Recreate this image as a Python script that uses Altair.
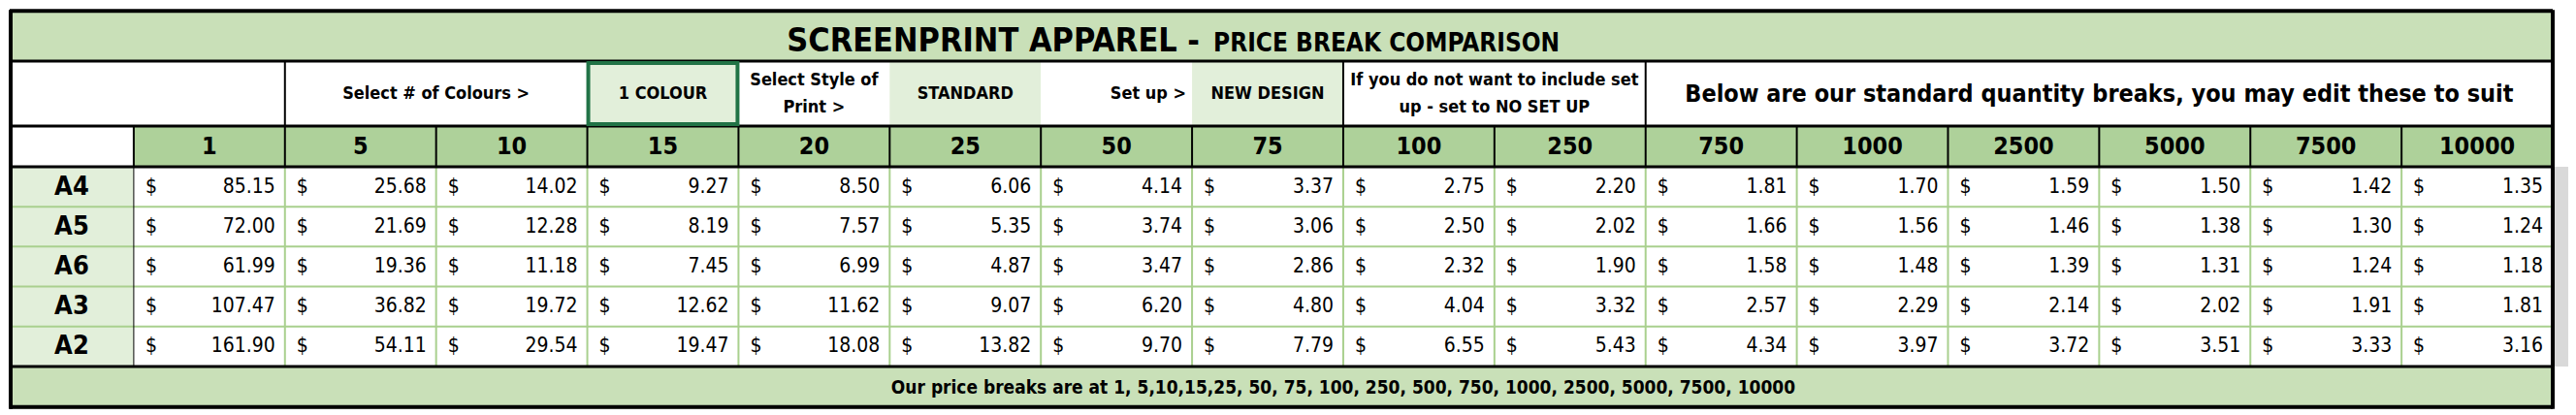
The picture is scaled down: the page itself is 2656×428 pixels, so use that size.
import altair as alt
import pandas as pd

sizes = ["A4", "A5", "A6", "A3", "A2"]
qty = [1, 5, 10, 15, 20, 25, 50, 75, 100, 250, 750, 1000, 2500, 5000, 7500, 10000]
prices = {
    "A4": [85.15, 25.68, 14.02, 9.27, 8.50, 6.06, 4.14, 3.37, 2.75, 2.20, 1.81, 1.70, 1.59, 1.50, 1.42, 1.35],
    "A5": [72.00, 21.69, 12.28, 8.19, 7.57, 5.35, 3.74, 3.06, 2.50, 2.02, 1.66, 1.56, 1.46, 1.38, 1.30, 1.24],
    "A6": [61.99, 19.36, 11.18, 7.45, 6.99, 4.87, 3.47, 2.86, 2.32, 1.90, 1.58, 1.48, 1.39, 1.31, 1.24, 1.18],
    "A3": [107.47, 36.82, 19.72, 12.62, 11.62, 9.07, 6.20, 4.80, 4.04, 3.32, 2.57, 2.29, 2.14, 2.02, 1.91, 1.81],
    "A2": [161.90, 54.11, 29.54, 19.47, 18.08, 13.82, 9.70, 7.79, 6.55, 5.43, 4.34, 3.97, 3.72, 3.51, 3.33, 3.16],
}
title_main = "SCREENPRINT APPAREL -"
title_sub = "PRICE BREAK COMPARISON"
footer = "Our price breaks are at 1, 5,10,15,25, 50, 75, 100, 250, 500, 750, 1000, 2500, 5000, 7500, 10000"
# (first col, last col, text, fill, align) -- 0-based quantity columns
options = [
    (1, 2, "Select # of Colours  >", "white", "center"),
    (3, 3, "1 COLOUR", "#e2efda", "center"),
    (4, 4, "Select Style of|Print  >", "white", "center"),
    (5, 5, "STANDARD", "#e2efda", "center"),
    (6, 6, "Set up >", "white", "right"),
    (7, 7, "NEW DESIGN", "#e2efda", "center"),
    (8, 9, "If you do not want to include set|up - set to NO SET UP", "white", "center"),
    (10, 15, "Below are our standard quantity breaks, you may edit these to suit", "white", "center"),
]

W, H = 2640, 412
LAB = 128
CW = 156.0
ROWS = [0, 53, 120, 162]
RH = 41.2
FONT = "Liberation Sans Narrow, DejaVu Sans Condensed, sans-serif"
GREEN = "#a9d08e"


def cx(i):
    return LAB + i * CW


y_data0 = ROWS[3]
y_foot = y_data0 + 5 * RH

rects = []
rects.append(dict(x=0, x2=cx(16), y=0, y2=ROWS[1], fill="#c9e0b8"))
rects.append(dict(x=0, x2=cx(16), y=y_foot, y2=H, fill="#c9e0b8"))
rects.append(dict(x=0, x2=cx(16), y=ROWS[1], y2=ROWS[2], fill="white"))
for a, b, t, f, al in options:
    rects.append(dict(x=cx(a), x2=cx(b + 1), y=ROWS[1], y2=ROWS[2], fill=f))
rects.append(dict(x=0, x2=LAB, y=ROWS[2], y2=ROWS[3], fill="white"))
rects.append(dict(x=LAB, x2=cx(16), y=ROWS[2], y2=ROWS[3], fill="#aed19a"))
rects.append(dict(x=0, x2=LAB, y=y_data0, y2=y_foot, fill="#e2efda"))
rects.append(dict(x=LAB, x2=cx(16), y=y_data0, y2=y_foot, fill="white"))
rects.append(dict(x=cx(16) + 2, x2=W, y=y_data0, y2=y_foot, fill="#d9d9d9"))
rects_df = pd.DataFrame(rects)

lines = []
for i in range(1, 5):
    y = y_data0 + i * RH
    lines.append(dict(x=0, x2=cx(16), y=y, y2=y, c=GREEN, w=2))
for i in range(1, 16):
    lines.append(dict(x=cx(i), x2=cx(i), y=y_data0, y2=y_foot, c=GREEN, w=2))
for i in range(0, 16):
    lines.append(dict(x=cx(i), x2=cx(i), y=ROWS[2], y2=ROWS[3], c="black", w=2))
for a in [1, 8, 10]:
    lines.append(dict(x=cx(a), x2=cx(a), y=ROWS[1], y2=ROWS[2], c="black", w=2))
for y in [ROWS[1], ROWS[2], ROWS[3], y_foot]:
    lines.append(dict(x=0, x2=cx(16), y=y, y2=y, c="black", w=3))
lines.append(dict(x=LAB, x2=LAB, y=ROWS[3], y2=y_foot, c="black", w=1))
# selected cell
s0, s1 = cx(3), cx(4)
for (x, x2, y, y2) in [(s0, s1, ROWS[1] + 2, ROWS[1] + 2), (s0, s1, ROWS[2] - 2, ROWS[2] - 2),
                       (s0 + 1, s0 + 1, ROWS[1], ROWS[2]), (s1 - 1, s1 - 1, ROWS[1], ROWS[2])]:
    lines.append(dict(x=x, x2=x2, y=y, y2=y2, c="#217346", w=4))
# outer frame
for (x, x2, y, y2) in [(0, cx(16), 1, 1), (0, cx(16), H - 2, H - 2), (1, 1, 0, H), (cx(16), cx(16), 0, H)]:
    lines.append(dict(x=x, x2=x2, y=y, y2=y2, c="black", w=4))
lines_df = pd.DataFrame(lines)

texts = []
texts.append(dict(x=1228, y=33, t=title_main, s=34, a="right"))
texts.append(dict(x=1242, y=35, t=title_sub, s=26, a="left"))
texts.append(dict(x=cx(8), y=y_foot + 22, t=footer, s=19, a="center"))
for a, b, t, f, al in options:
    parts = t.split("|")
    big = b == 15
    for k, p in enumerate(parts):
        yy = (ROWS[1] + ROWS[2]) / 2 + (k - (len(parts) - 1) / 2) * 28
        xx = (cx(a) + cx(b + 1)) / 2 if al == "center" else cx(b + 1) - 6
        texts.append(dict(x=xx, y=yy, t=p, s=25 if big else 18, a=al))
for i, q in enumerate(qty):
    texts.append(dict(x=cx(i) + CW / 2, y=(ROWS[2] + ROWS[3]) / 2, t=str(q), s=25, a="center"))
for r, name in enumerate(sizes):
    yy = y_data0 + (r + 0.5) * RH
    texts.append(dict(x=LAB / 2, y=yy, t=name, s=27, a="center"))
    for i, v in enumerate(prices[name]):
        texts.append(dict(x=cx(i) + 12, y=yy, t="$", s=21, a="left", n=1))
        texts.append(dict(x=cx(i + 1) - 10, y=yy, t=f"{v:.2f}", s=21, a="right", n=1))
texts_df = pd.DataFrame(texts).fillna(0)

xs = alt.Scale(domain=[0, W], range=[0, W])
ys = alt.Scale(domain=[0, H], range=[0, H])

bg = alt.Chart(rects_df).mark_rect().encode(
    x=alt.X("x:Q", scale=xs, axis=None), x2="x2", y=alt.Y("y:Q", scale=ys, axis=None), y2="y2",
    color=alt.Color("fill:N", scale=None),
)
grid = alt.Chart(lines_df).mark_rule().encode(
    x=alt.X("x:Q", scale=xs, axis=None), x2="x2", y=alt.Y("y:Q", scale=ys, axis=None), y2="y2",
    color=alt.Color("c:N", scale=None), strokeWidth=alt.StrokeWidth("w:Q", scale=None),
)
layers = [bg, grid]
for al in ["left", "center", "right"]:
    sub = texts_df[texts_df.a == al]
    for weight, frame in [("normal", sub[sub.n == 1]), ("bold", sub[sub.n != 1])]:
        if len(frame) == 0:
            continue
        layers.append(alt.Chart(frame).mark_text(align=al, baseline="middle", font=FONT,
                                                 fontWeight=weight, color="black").encode(
            x=alt.X("x:Q", scale=xs, axis=None), y=alt.Y("y:Q", scale=ys, axis=None),
            text="t:N", size=alt.Size("s:Q", scale=None),
        ))

chart = alt.layer(*layers).properties(width=W, height=H, padding=0).configure_view(stroke=None)
chart.save("out.html", embed_options={"renderer": "svg", "actions": False})
